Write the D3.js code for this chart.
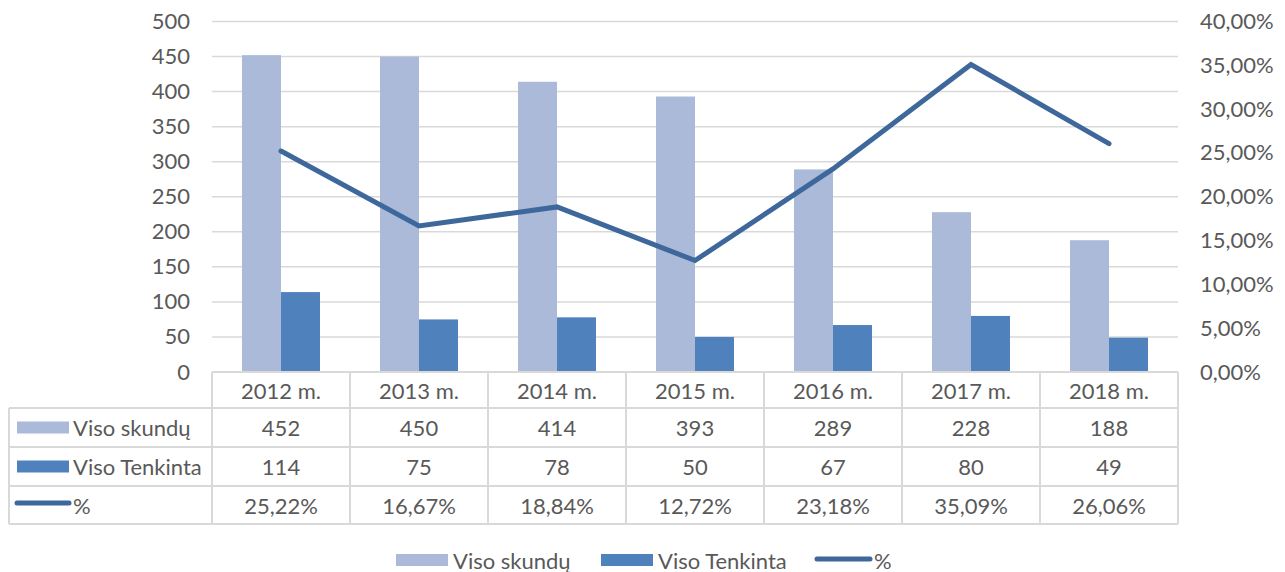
<!DOCTYPE html>
<html>
<head>
<meta charset="utf-8">
<script src="https://cdn.jsdelivr.net/npm/d3@7"></script>
<style>
  body { margin: 0; background: #fff; }
  text { font-family: Lato, "Open Sans", sans-serif; fill: #595959; }
</style>
</head>
<body>
<div class="chart"></div>
<script>
// data
const years = ['2012 m.', '2013 m.', '2014 m.', '2015 m.', '2016 m.', '2017 m.', '2018 m.']
const visoSkundu = [452, 450, 414, 393, 289, 228, 188]
const visoTenkinta = [114, 75, 78, 50, 67, 80, 49]
const percent = [25.22, 16.67, 18.84, 12.72, 23.18, 35.09, 26.06]
const leftTicks = [0, 50, 100, 150, 200, 250, 300, 350, 400, 450, 500]
const rightTicks = [0, 5, 10, 15, 20, 25, 30, 35, 40]

const W = 1285, H = 572
const plot = {left: 212, right: 1178, top: 21.5, bottom: 372}
const fontSize = 22
const lightColor = '#abbad8'
const darkColor = '#4f81bd'
const lineColor = '#3e679c'
const gridColor = '#d9d9d9'

const svg = d3.select('.chart')
  .append('svg')
  .attr('width', W)
  .attr('height', H)

const x = d3.scaleBand()
  .domain(years)
  .range([plot.left, plot.right])

const yLeft = d3.scaleLinear().domain([0, 500]).range([plot.bottom, plot.top])
const yRight = d3.scaleLinear().domain([0, 40]).range([plot.bottom, plot.top])

// inner band for two bars, gap width ~150%
const barW = x.bandwidth() / 3.54
const inner = d3.scaleBand()
  .domain(['s', 't'])
  .range([0, barW * 2])

// gridlines
svg.append('g')
  .selectAll('line')
  .data(leftTicks)
  .enter()
  .append('line')
  .attr('x1', plot.left)
  .attr('x2', plot.right)
  .attr('y1', d => yLeft(d))
  .attr('y2', d => yLeft(d))
  .attr('stroke', gridColor)
  .attr('stroke-width', 1.5)

// left axis
const yAxisL = d3.axisLeft(yLeft).tickValues(leftTicks).tickSize(0).tickPadding(0)
svg.append('g')
  .attr('transform', 'translate(190,0)')
  .call(yAxisL)
  .call(g => g.select('.domain').remove())
  .selectAll('text')
  .attr('font-size', fontSize)
  .style('font-family', 'Lato, sans-serif')
  .attr('fill', '#595959')

// right axis
const fmtPct = d => d3.format('.2f')(d).replace('.', ',') + '%'
const yAxisR = d3.axisRight(yRight).tickValues(rightTicks).tickSize(0).tickPadding(0).tickFormat(fmtPct)
svg.append('g')
  .attr('transform', 'translate(1200,0)')
  .call(yAxisR)
  .call(g => g.select('.domain').remove())
  .selectAll('text')
  .attr('font-size', fontSize)
  .style('font-family', 'Lato, sans-serif')
  .attr('fill', '#595959')

// bars
const barStart = d => x(d) + (x.bandwidth() - barW * 2) / 2
svg.append('g')
  .selectAll('rect')
  .data(years)
  .enter()
  .append('rect')
  .attr('x', d => barStart(d) + inner('s'))
  .attr('width', inner.bandwidth())
  .attr('y', (d, i) => yLeft(visoSkundu[i]))
  .attr('height', (d, i) => yLeft(0) - yLeft(visoSkundu[i]))
  .attr('fill', lightColor)

svg.append('g')
  .selectAll('rect')
  .data(years)
  .enter()
  .append('rect')
  .attr('x', d => barStart(d) + inner('t'))
  .attr('width', inner.bandwidth())
  .attr('y', (d, i) => yLeft(visoTenkinta[i]))
  .attr('height', (d, i) => yLeft(0) - yLeft(visoTenkinta[i]))
  .attr('fill', darkColor)

// line
const line = d3.line()
  .x((d, i) => x(years[i]) + x.bandwidth() / 2)
  .y(d => yRight(d))

svg.append('path')
  .datum(percent)
  .attr('d', line)
  .attr('fill', 'none')
  .attr('stroke', lineColor)
  .attr('stroke-width', 5)
  .attr('stroke-linejoin', 'miter')
  .attr('stroke-linecap', 'round')

// data table
const rowEdges = [372, 408, 447, 486, 524]
const tableLeft = 9
const table = svg.append('g')
const tStroke = {stroke: gridColor, w: 2}

// horizontal lines
table.append('line')
  .attr('x1', plot.left).attr('x2', plot.right)
  .attr('y1', rowEdges[0]).attr('y2', rowEdges[0])
  .attr('stroke', tStroke.stroke).attr('stroke-width', tStroke.w)
rowEdges.slice(1).forEach(y => {
  table.append('line')
    .attr('x1', tableLeft).attr('x2', plot.right)
    .attr('y1', y).attr('y2', y)
    .attr('stroke', tStroke.stroke).attr('stroke-width', tStroke.w)
})
// vertical lines
const colEdges = years.map(d => x(d)).concat([plot.right])
colEdges.forEach(cx => {
  table.append('line')
    .attr('x1', cx).attr('x2', cx)
    .attr('y1', rowEdges[0]).attr('y2', rowEdges[4])
    .attr('stroke', tStroke.stroke).attr('stroke-width', tStroke.w)
})
table.append('line')
  .attr('x1', tableLeft).attr('x2', tableLeft)
  .attr('y1', rowEdges[1]).attr('y2', rowEdges[4])
  .attr('stroke', tStroke.stroke).attr('stroke-width', tStroke.w)

// header texts
table.selectAll('text.hdr')
  .data(years)
  .enter()
  .append('text')
  .attr('class', 'hdr')
  .attr('x', d => x(d) + x.bandwidth() / 2)
  .attr('y', (rowEdges[0] + rowEdges[1]) / 2)
  .attr('text-anchor', 'middle')
  .attr('dominant-baseline', 'central')
  .attr('font-size', fontSize)
  .text(d => d)

const rows = [
  {name: 'Viso skundų', values: visoSkundu.map(String), key: 'rect', color: lightColor},
  {name: 'Viso Tenkinta', values: visoTenkinta.map(String), key: 'rect', color: darkColor},
  {name: '%', values: percent.map(fmtPct), key: 'line', color: lineColor}
]

rows.forEach((r, ri) => {
  const cy = (rowEdges[ri + 1] + rowEdges[ri + 2]) / 2
  if (r.key === 'rect') {
    table.append('rect')
      .attr('x', 17).attr('y', cy - 6)
      .attr('width', 52).attr('height', 12)
      .attr('fill', r.color)
  } else {
    table.append('line')
      .attr('x1', 17).attr('x2', 69)
      .attr('y1', cy - 2).attr('y2', cy - 2)
      .attr('stroke', r.color).attr('stroke-width', 5)
      .attr('stroke-linecap', 'round')
  }
  table.append('text')
    .attr('x', 73)
    .attr('y', cy)
    .attr('dominant-baseline', 'central')
    .attr('font-size', fontSize)
    .text(r.name)
  table.selectAll(null)
    .data(r.values)
    .enter()
    .append('text')
    .attr('x', (d, i) => x(years[i]) + x.bandwidth() / 2)
    .attr('y', cy)
    .attr('text-anchor', 'middle')
    .attr('dominant-baseline', 'central')
    .attr('font-size', fontSize)
    .text(d => d)
})

// bottom legend
const legend = svg.append('g').attr('transform', 'translate(0,560)')
const legendItems = [
  {name: 'Viso skundų', x: 396, key: 'rect', color: lightColor},
  {name: 'Viso Tenkinta', x: 601, key: 'rect', color: darkColor},
  {name: '%', x: 817, key: 'line', color: lineColor}
]
legendItems.forEach(it => {
  if (it.key === 'rect') {
    legend.append('rect')
      .attr('x', it.x).attr('y', -6)
      .attr('width', 52).attr('height', 12)
      .attr('fill', it.color)
  } else {
    legend.append('line')
      .attr('x1', it.x).attr('x2', it.x + 53)
      .attr('y1', -1).attr('y2', -1)
      .attr('stroke', it.color).attr('stroke-width', 5)
      .attr('stroke-linecap', 'round')
  }
  legend.append('text')
    .attr('x', it.x + 57)
    .attr('y', 0)
    .attr('dominant-baseline', 'central')
    .attr('font-size', fontSize)
    .text(it.name)
})
</script>
</body>
</html>
